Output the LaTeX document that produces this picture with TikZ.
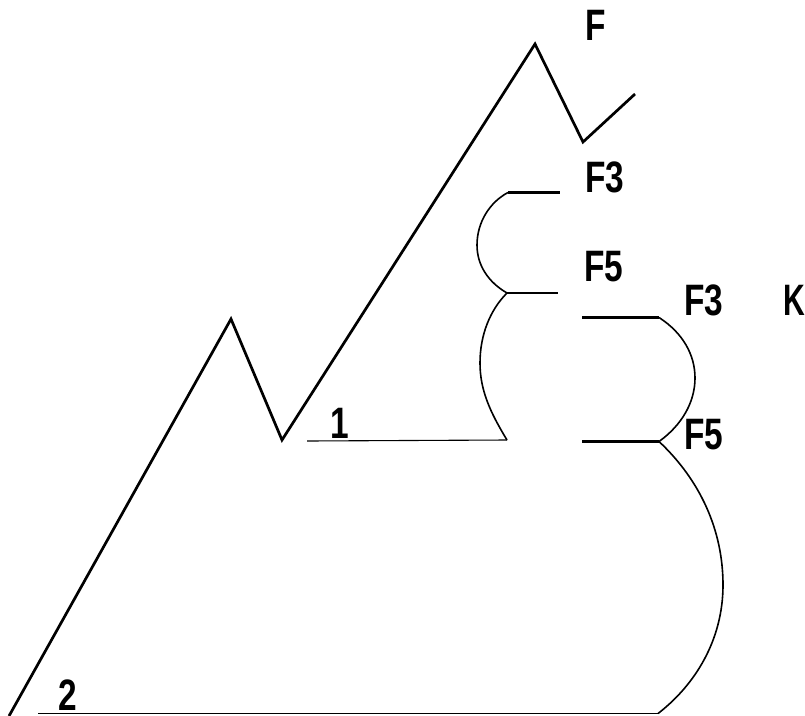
\documentclass[tikz,border=0pt]{standalone}
\usepackage{fontspec}
\setmainfont{Liberation Sans}
\tikzset{
 lab/.style={font=\bfseries\fontsize{44}{44}\selectfont,inner sep=0pt,anchor=center,transform shape,xscale=0.76},
 main line/.style={line width=2.7pt,line join=miter},
 thin line/.style={line width=1.6pt},
 hair line/.style={line width=1.1pt},
 mid line/.style={line width=2.1pt},
 heavy line/.style={line width=3pt}
}
\begin{document}
\begin{tikzpicture}[x=1pt,y=-1pt]
\useasboundingbox (0,0) rectangle (805,715);
\coordinate (p0) at (9,716);
\coordinate (p1) at (231,319);
\coordinate (p2) at (282,440);
\coordinate (p3) at (535,44);
\coordinate (p4) at (583,142);
\coordinate (p5) at (635,94);
\draw[main line] (p0)--(p1)--(p2)--(p3)--(p4)--(p5);
\coordinate (a1) at (307,441);
\coordinate (a3) at (507,440);
\coordinate (b1) at (507,293);
\coordinate (b2) at (558,293);
\coordinate (c1) at (508,192.5);
\coordinate (c2) at (560,192.5);
\draw[hair line] (a1)--(a3);
\draw[thin line] (a3) .. controls (490,412) and (480,390) .. (480,363) .. controls (480,335) and (490,310) .. (b1);
\draw[mid line] (b1)--(b2);
\draw[thin line] (b1) .. controls (488,282) and (477,265) .. (477,245) .. controls (477,222) and (490,202) .. (c1);
\draw[mid line] (c1)--(c2);
\coordinate (d1) at (582,317.5);
\coordinate (d2) at (659,317.5);
\coordinate (e1) at (582,441.5);
\coordinate (e2) at (659,441.5);
\draw[mid line] (d1)--(d2);
\draw[thin line] (d2) .. controls (683,333) and (695,355) .. (695,378) .. controls (695,402) and (682,425) .. (e2);
\draw[heavy line] (e1)--(e2);
\coordinate (g1) at (723,585);
\coordinate (f1) at (38,713.5);
\coordinate (f2) at (658,713.5);
\draw[thin line] (e2) .. controls (700,480) and (723,530) .. (g1) .. controls (723,640) and (695,685) .. (f2);
\draw[hair line] (f1)--(f2);
\node[lab] (F) at (596,25) {F};
\node[lab] (F3a) at (605,177) {F3};
\node[lab] (F5a) at (604,267) {F5};
\node[lab] (F3b) at (704,300) {F3};
\node[lab,xscale=0.9] (K) at (794.5,300) {K};
\node[lab] (F5b) at (704,435) {F5};
\node[lab] (one) at (340,423) {1};
\node[lab] (two) at (68,695) {2};
\end{tikzpicture}
\end{document}
